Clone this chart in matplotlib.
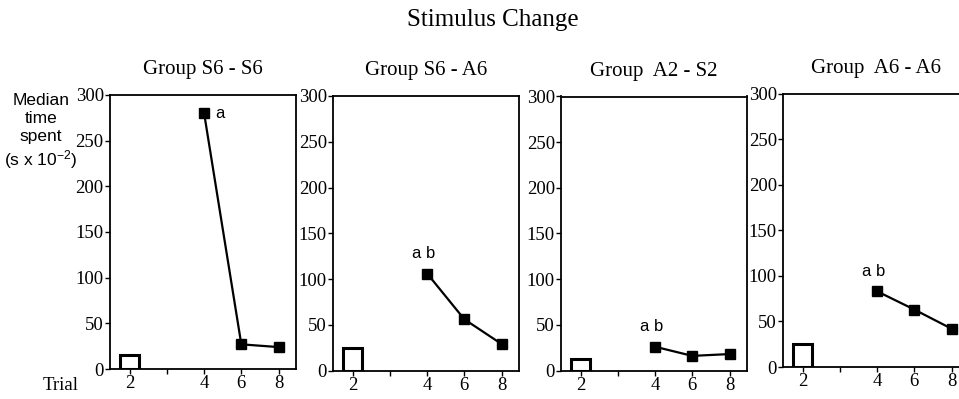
import matplotlib
matplotlib.use("Agg")
import matplotlib.pyplot as plt

plt.rcParams["mathtext.fontset"] = "custom"
plt.rcParams["mathtext.rm"] = "Liberation Sans"
plt.rcParams["mathtext.it"] = "Liberation Sans"
plt.rcParams["mathtext.default"] = "regular"

# ---- data ----
groups = ["Group S6 - S6", "Group S6 - A6", "Group  A2 - S2", "Group  A6 - A6"]
trial_labels = ["2", "4", "6", "8"]
bar_trial2 = [15, 25, 13, 25]
line_trials = ["4", "6", "8"]
line_s6s6 = [280, 27, 24]
line_s6a6 = [106, 56, 29]
line_a2s2 = [26, 16, 18]
line_a6a6 = [83, 63, 42]
letters = ["a", "a b", "a b", "a b"]
yticks = [0, 50, 100, 150, 200, 250, 300]

series = [line_s6s6, line_s6a6, line_a2s2, line_a6a6]

W, H = 959, 399
fig = plt.figure(figsize=(W / 100, H / 100), dpi=100)
serif = "Liberation Serif"
sans = "Liberation Sans"

# category positions (gap between trial 2 and 4)
pos = {"2": 0, "4": 2, "6": 3, "8": 4}

lefts = [110, 333, 561, 783]
tops = [95, 96, 96.5, 93.5]
bottoms = [369, 370.5, 370.5, 367]
width = 186

for i in range(4):
    l = lefts[i] / W
    b = 1 - bottoms[i] / H
    h = (bottoms[i] - tops[i]) / H
    ax = fig.add_axes([l, b, width / W, h])
    xs = [pos[t] for t in line_trials]
    ax.bar([pos["2"]], [bar_trial2[i]], width=0.5, facecolor="white",
           edgecolor="black", linewidth=2.2, zorder=3)
    ax.plot(xs, series[i], color="black", linewidth=1.6, marker="s",
            markersize=7.5, zorder=4, clip_on=False)
    ax.set_xlim(-0.53, 4.47)
    ax.set_ylim(0, 300)
    ax.set_yticks(yticks)
    ax.set_yticklabels([str(v) for v in yticks], fontfamily=serif, fontsize=13.5)
    ax.set_xticks([0, 1, 2, 3, 4])
    ax.set_xticklabels(["2", "", "4", "6", "8"], fontfamily=serif, fontsize=13.5)
    ax.tick_params(axis="both", direction="out", length=3.5, width=1, pad=1)
    for s in ax.spines.values():
        s.set_linewidth(1.3)
    ax.set_title(groups[i], fontfamily=serif, fontsize=15, pad=15)
    if i == 0:
        ax.text(pos["4"] + 0.3, series[i][0], letters[i], fontfamily=sans,
                fontsize=12, ha="left", va="center")
    else:
        ax.text(pos["4"] - 0.1, series[i][0] + 14, letters[i], fontfamily=sans,
                fontsize=12, ha="center", va="bottom")

fig.text(493 / W, 1 - 20 / H, "Stimulus Change", fontfamily=serif, fontsize=18,
         ha="center", va="center")
fig.text(41 / W, 1 - 132 / H, "Median\ntime\nspent\n(s x 10$^{-2}$)",
         fontfamily=sans, fontsize=12.5, ha="center", va="center",
         linespacing=1.25)
fig.text(61 / W, 1 - 386 / H, "Trial", fontfamily=serif, fontsize=13.5,
         ha="center", va="center")

fig.savefig("out.png", dpi=100)
